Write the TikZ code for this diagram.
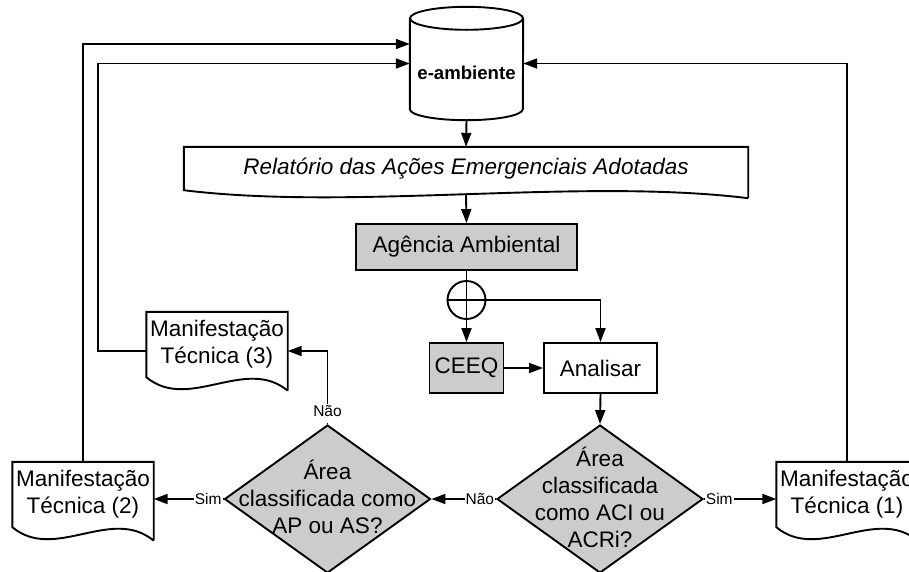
\documentclass[tikz,border=0pt]{standalone}
\usepackage{fontspec}
\setmainfont{Liberation Sans}
\usetikzlibrary{arrows.meta,shapes.geometric,calc}

\definecolor{boxgray}{RGB}{204,204,204}
\newcommand{\mainsize}{\fontsize{22.5}{27}\selectfont}
\newcommand{\lblsize}{\fontsize{15.5}{18}\selectfont}

% outline of a "document" shape: body node #1 of width #2, wavy bottom of depth #3
\newcommand{\docoutline}[3]{%
  \draw[line] ($(#1.south east)+(0,#3)$) -- (#1.north east) -- (#1.north west) -- (#1.south west)
    .. controls +(0.3*#2,2.6*#3) and +(-0.3*#2,-2.6*#3) .. ($(#1.south east)+(0,#3)$);
}

\tikzset{
  line/.style={line width=1.9pt, draw=black, line join=miter},
  arr/.style={line, -{Triangle[length=14pt,width=10pt]}},
  procbox/.style={line, rectangle, inner sep=0pt, font=\mainsize, align=center},
  docnode/.style={rectangle, inner sep=0pt, font=\mainsize, align=center,
                  minimum width=141pt, minimum height=65pt},
  decision/.style={line, diamond, fill=boxgray, inner sep=0pt,
                   minimum width=206pt, minimum height=148pt},
  dtext/.style={font=\mainsize, align=center, inner sep=0pt},
  lbl/.style={font=\lblsize, fill=white, inner sep=1pt},
}

\begin{document}
\begin{tikzpicture}[x=1pt,y=-1pt]
\useasboundingbox (0,0) rectangle (909,571);

% database cylinder
\node[rectangle, minimum width=113pt, minimum height=113pt, inner sep=0pt] (eamb) at (466.5,63.5) {};
\draw[line] ([yshift=-11.5pt]eamb.north) ellipse [x radius=56.5pt, y radius=11.5pt];
\draw[line] ([yshift=-11.5pt]eamb.north west) -- ([yshift=11pt]eamb.south west)
  arc[start angle=180, end angle=360, x radius=56.5pt, y radius=11pt]
  -- ([yshift=-11.5pt]eamb.north east);
\node[font=\fontsize{18.6}{22}\selectfont\bfseries, inner sep=0pt] (eambtxt) at ([yshift=-9.5pt]eamb.center) {e-ambiente};

% report document
\node[docnode, minimum width=564pt, minimum height=43pt, font=\mainsize\itshape] (rel) at (466,168.5)
  {Relatório das Ações Emergenciais Adotadas};
\docoutline{rel}{564}{8}

% process boxes
\node[procbox, fill=boxgray, minimum width=221pt, minimum height=46pt] (ag) at (466.5,247) {Agência Ambiental};
\node[line, circle, minimum size=38pt, inner sep=0pt] (jn) at (466.5,300) {};
\draw[line] (jn.north) -- (jn.south) (jn.west) -- (jn.east);
\node[procbox, fill=boxgray, minimum width=74pt, minimum height=50pt] (ceeq) at (466.5,368) {CEEQ};
\node[procbox, fill=white, minimum width=113pt, minimum height=50pt] (an) at (600.5,368) {Analisar};

% decisions
\node[decision] (d1) at (600,499) {};
\node[dtext] (d1t) at (600,497) {Área\\classificada\\como ACI ou\\ACRi?};
\node[decision] (d2) at (327.5,499) {};
\node[dtext] (d2t) at (327.5,497) {Área\\classificada como\\AP ou AS?};

% technical statements
\node[docnode] (mt1) at (847,494.5) {Manifestação\\Técnica (1)};
\docoutline{mt1}{141}{13.5}
\node[docnode] (mt2) at (83,494.5) {Manifestação\\Técnica (2)};
\docoutline{mt2}{141}{13.5}
\node[docnode] (mt3) at (217,344.5) {Manifestação\\Técnica (3)};
\docoutline{mt3}{141}{13.5}

% connectors
\draw[arr] (eamb.south) -- (rel.north);
\draw[arr] ([yshift=-4pt]rel.south) -- (ag.north);
\draw[line] (ag.south) -- (jn.north);
\draw[arr] (jn.south) -- (ceeq.north);
\draw[arr] (jn.east) -| (an.north);
\draw[arr] (ceeq.east) -- (an.west);
\draw[arr] (an.south) -- (d1.north);
\draw[arr] (d1.west) -- node[lbl, pos=0, anchor=east] {Não} (d2.east);
\draw[arr] (d1.east) -- node[lbl, pos=0, anchor=west] {Sim} (d1.east -| mt1.west);
\draw[arr] (d2.west) -- node[lbl, pos=0, anchor=east] {Sim} (d2.west -| mt2.east);
\draw[arr] (d2.north) |- node[lbl, pos=0, anchor=south, text depth=6pt] {Não} ([yshift=-6.5pt]mt3.east);
\draw[arr] ([yshift=-6.5pt]mt3.west) -- ++(-48,0) |- (eamb.west);
\draw[arr] (mt2.north) |- ([yshift=19.5pt]eamb.west);
\draw[arr] (mt1.north) |- (eamb.east);
\end{tikzpicture}
\end{document}
